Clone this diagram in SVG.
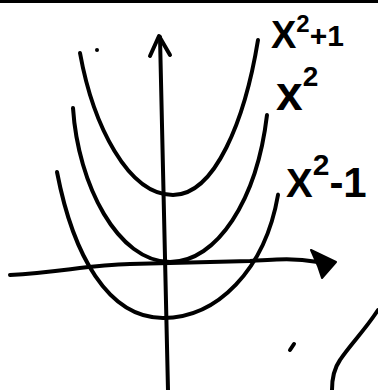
<svg xmlns="http://www.w3.org/2000/svg" width="378" height="390" viewBox="0 0 378 390">
<style>
.s{fill:none;stroke:#000;stroke-width:4;stroke-linecap:round;stroke-linejoin:round}
.t{font-family:"Liberation Sans",Arial,sans-serif;font-weight:bold;fill:#000}
</style>
<rect x="0" y="0" width="378" height="3" fill="#000"/>
<g id="axes">
<path class="s" d="M168,390 L160,37"/>
<path class="s" d="M150,56 L159,36 L170,55"/>
<path class="s" d="M10,275 C60,272 90,265 130,264 L250,261 C280,259 295,258 318,262"/>
<path d="M311,250 L336,262 L322,278 L318,266 Z" fill="#000" stroke="#000" stroke-width="2" stroke-linejoin="round"/>
</g>
<g id="curves">
<path class="s" d="M80,53 C93,125 128,195 173,195 C215,195 245,120 258,40" stroke-width="5"/>
<path class="s" d="M73,108 C78,185 118,262 170,262 C217,262 257,200 267,115"/>
<path class="s" d="M57,172 C73,255 108,318 163,318 C217,318 265,270 278,195"/>
<path class="s" d="M378,310 C365,330 350,345 340,360 C333,370 332,380 332,390"/>
<path class="s" d="M290,350 L294,344" stroke-width="2.5"/>
<circle cx="97" cy="50" r="2"/>
<circle cx="278" cy="194" r="1.5"/>
</g>
<g id="labels">
<text class="t" x="271" y="48" font-size="38">X<tspan dy="-16" font-size="24">2</tspan><tspan dy="14" font-size="30">+1</tspan></text>
<text class="t" x="276" y="110" font-size="48">x<tspan dy="-24" font-size="28">2</tspan></text>
<text class="t" x="286" y="197" font-size="40">X<tspan dy="-22" font-size="30">2</tspan><tspan dy="22" font-size="42">-1</tspan></text>
</g>
</svg>
